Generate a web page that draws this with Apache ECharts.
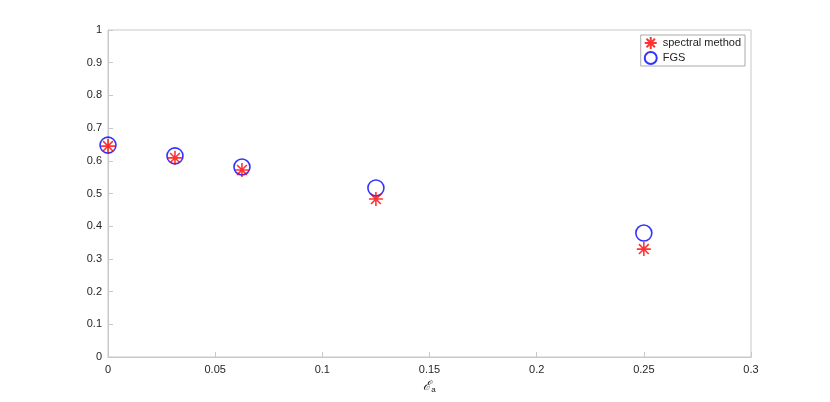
<!DOCTYPE html>
<html>
<head>
	<meta charset="utf-8">
	<script type="text/javascript" src="https://cdn.jsdelivr.net/npm/echarts@6/dist/echarts.min.js"></script>
</head>
<body style="margin:0;background:#fff">

<div id="main" style="width:830px;height:402px"></div>

<script type="text/javascript">
  // data
  var epsValues = [0, 0.03125, 0.0625, 0.125, 0.25];
  var spectral = [0.645, 0.609, 0.572, 0.483, 0.330];
  var fgs = [0.648, 0.615, 0.581, 0.517, 0.379];
  var seriesNames = ['spectral method', 'FGS'];

  function pairs(xs, ys) {
    return xs.map(function (x, i) { return [x, ys[i]]; });
  }

  // asterisk marker like matlab '*'
  var star = 'path://M0,-10L0,10M-10,0L10,0M-7,-7L7,7M-7,7L7,-7';

  var myChart = echarts.init(document.getElementById('main'));

  var axisCol = '#c8c8c8';
  var labelCol = '#262626';

  var option = {
    animation: false,
    textStyle: { fontFamily: 'Liberation Sans, Arial, sans-serif' },
    grid: {
      left: 108, right: 79, top: 30, bottom: 45,
      show: true, borderColor: axisCol, borderWidth: 1
    },
    legend: {
      orient: 'vertical',
      right: 85, top: 35,
      itemWidth: 14, itemHeight: 12, itemGap: 1,
      padding: [1, 4, 1, 3],
      backgroundColor: '#fff',
      borderColor: '#aaa', borderWidth: 1, borderRadius: 0,
      textStyle: { fontSize: 11, color: '#222' },
      data: seriesNames
    },
    xAxis: {
      type: 'value',
      min: 0, max: 0.3, interval: 0.05,
      name: '{e|ℰ}{s|a}',
      nameLocation: 'middle',
      nameGap: 20,
      nameTextStyle: {
        rich: {
          e: { fontSize: 13, fontStyle: 'italic', color: '#222', fontFamily: 'DejaVu Serif' },
          s: { fontSize: 8, color: '#222', verticalAlign: 'bottom', padding: [6, 0, 0, 0] }
        }
      },
      axisLine: { lineStyle: { color: axisCol } },
      axisTick: { inside: true, length: 5, lineStyle: { color: axisCol } },
      axisLabel: { color: labelCol, fontSize: 11, margin: 7 },
      splitLine: { show: false }
    },
    yAxis: {
      type: 'value',
      min: 0, max: 1, interval: 0.1,
      axisLine: { show: true, lineStyle: { color: axisCol } },
      axisTick: { show: true, inside: true, length: 5, lineStyle: { color: axisCol } },
      axisLabel: { color: labelCol, fontSize: 11, margin: 6 },
      splitLine: { show: false }
    },
    series: [
      {
        name: seriesNames[0],
        type: 'scatter',
        symbol: star,
        symbolSize: 14,
        itemStyle: { color: 'transparent', borderColor: '#ff0000', borderWidth: 1.6 },
        z: 3,
        data: pairs(epsValues, spectral)
      },
      {
        name: seriesNames[1],
        type: 'scatter',
        symbol: 'circle',
        symbolSize: 16,
        itemStyle: { color: 'transparent', borderColor: '#0000ff', borderWidth: 1.6 },
        z: 2,
        data: pairs(epsValues, fgs)
      }
    ]
  };
  myChart.setOption(option);
</script>
</body>
</html>
